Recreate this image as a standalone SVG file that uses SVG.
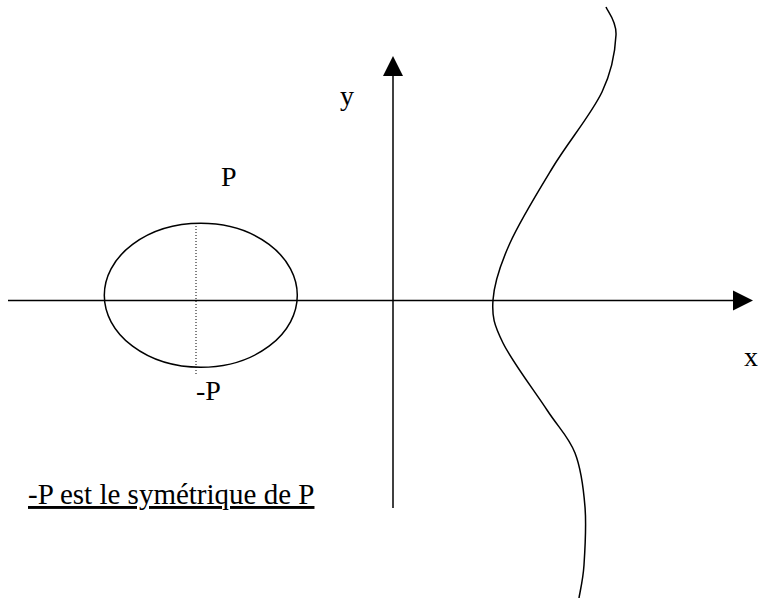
<svg xmlns="http://www.w3.org/2000/svg" width="758" height="610" viewBox="0 0 758 610">
<style>
.ln{stroke:#000;stroke-width:1.5;fill:none}
.lbl{font-family:"Liberation Serif","Times New Roman",serif;font-size:28px;fill:#000}
</style>
<rect width="758" height="610" fill="#fff"/>
<g id="connectors">
<line class="ln" x1="8" y1="300.5" x2="734" y2="300.5"/>
<polygon points="733,290.5 753,300.5 733,310.5" fill="#000"/>
<line class="ln" x1="393" y1="508" x2="393" y2="74"/>
<polygon points="383,76 393,56 403,76" fill="#000"/>
</g>
<g id="ellipse">
<ellipse class="ln" cx="200.8" cy="295.3" rx="96.5" ry="72"/>
<line x1="196" y1="226" x2="196" y2="374" stroke="#000" stroke-width="1" stroke-dasharray="1,2"/>
</g>
<g id="curve">
<path class="ln" d="M606,7 C607.7,11.7 616.7,20.8 616,35 C615.3,49.2 612.5,70 602,92 C591.5,114 568.3,141.8 553,167 C537.7,192.2 520,220.8 510,243 C500,265.2 494.2,283.3 493,300 C491.8,316.7 494,324.7 503,343 C512,361.3 535,391.7 547,410 C559,428.3 568.7,436.8 575,453 C581.3,469.2 583.5,488.3 585,507 C586.5,525.7 585,549.8 584,565 C583,580.2 579.8,592.5 579,598"/>
</g>
<g id="labels">
<text class="lbl" x="221" y="186">P</text>
<text class="lbl" x="196" y="400">-P</text>
<text class="lbl" x="340" y="105">y</text>
<text class="lbl" x="744" y="366">x</text>
<text class="lbl" x="28" y="504" style="font-size:29px" text-decoration="underline">-P est le symétrique de P</text>
</g>
</svg>
